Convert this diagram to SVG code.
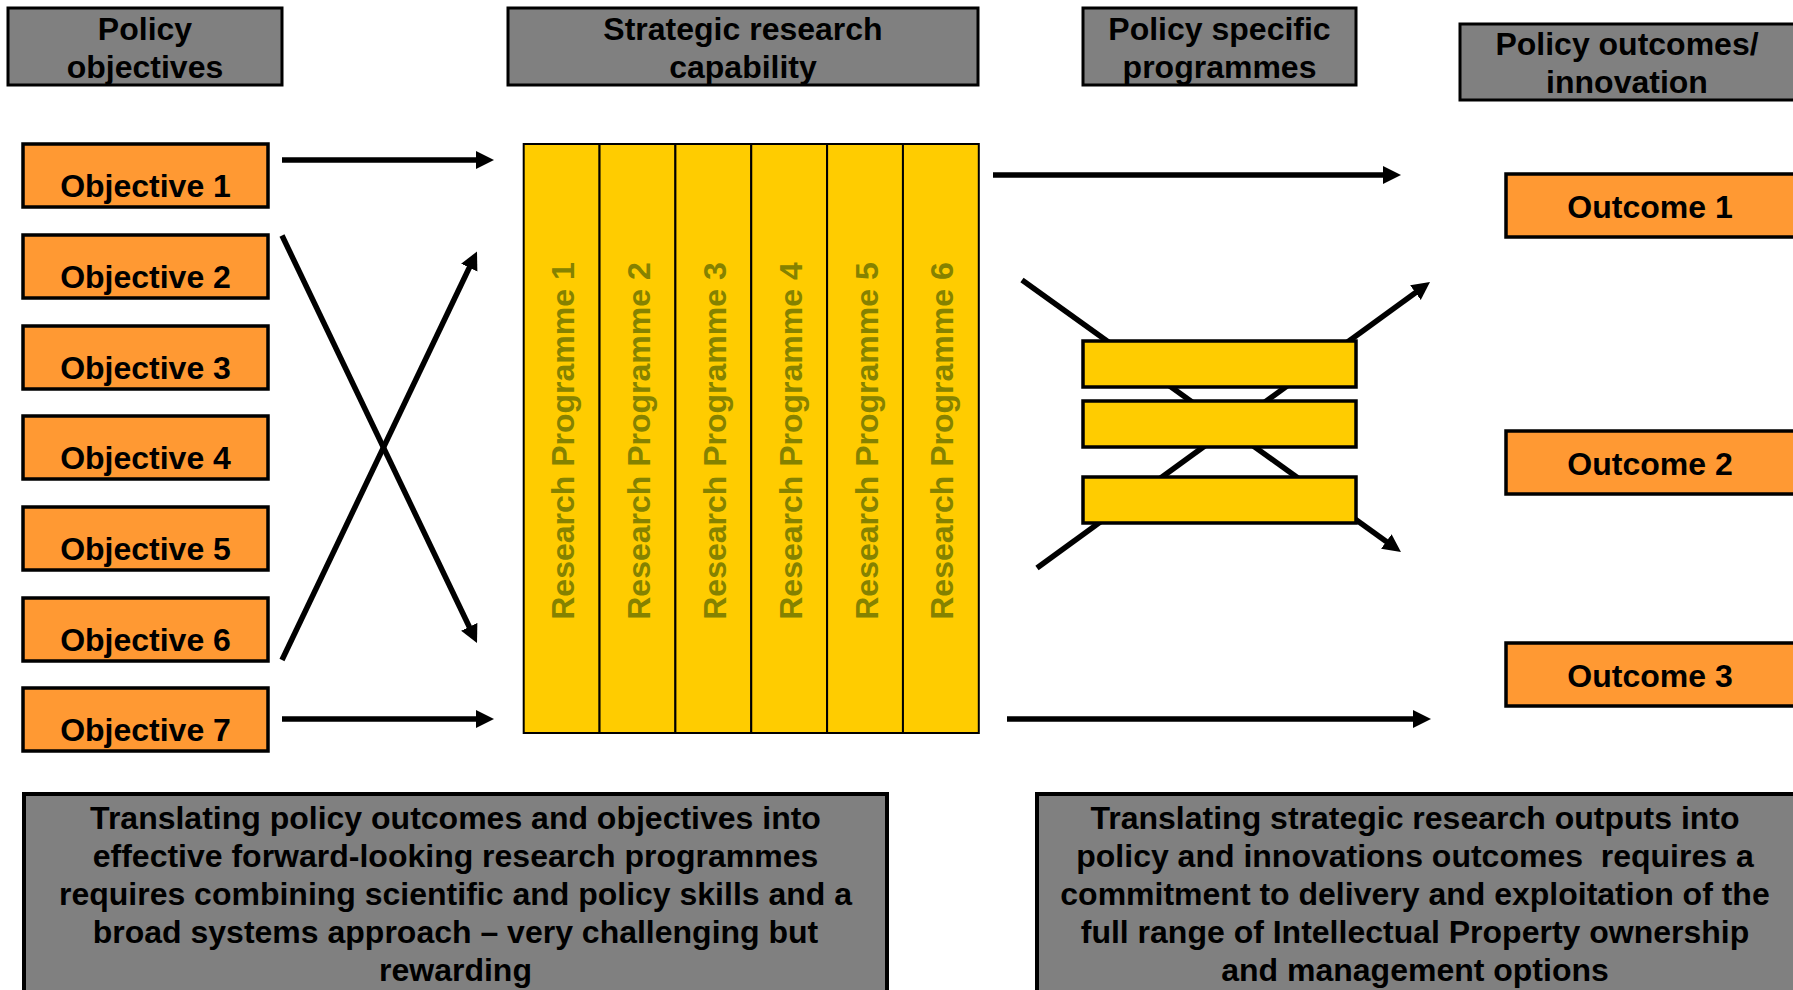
<svg xmlns="http://www.w3.org/2000/svg" width="1793" height="990" viewBox="0 0 1793 990">
<style>
text{font-family:"Liberation Sans",Arial,sans-serif;font-weight:bold;font-size:32px;fill:#000}
.hdr{fill:#808080;stroke:#000;stroke-width:3}
.obj{fill:#FF9933;stroke:#000;stroke-width:3.5}
.bar{fill:#FFCC00;stroke:#000;stroke-width:3.5}
.col{fill:#FFCC00;stroke:#000;stroke-width:2}
.rp{fill:#858200;text-anchor:middle}
.c{text-anchor:middle}
.conn{stroke:#000;stroke-width:5.5;fill:none}
</style>
<defs>
<marker id="ah" markerUnits="userSpaceOnUse" markerWidth="19" markerHeight="19" refX="5" refY="9" orient="auto">
<path d="M0,0 L18,9 L0,18 z" fill="#000"/>
</marker>
</defs>

<g id="connectors">
<line class="conn" x1="282" y1="160" x2="481" y2="160" marker-end="url(#ah)"/>
<line class="conn" x1="282" y1="719" x2="481" y2="719" marker-end="url(#ah)"/>
<line class="conn" x1="282" y1="235.5" x2="471.4" y2="631.3" marker-end="url(#ah)"/>
<line class="conn" x1="282" y1="660" x2="471.4" y2="263.2" marker-end="url(#ah)"/>
<line class="conn" x1="993" y1="175" x2="1388" y2="175" marker-end="url(#ah)"/>
<line class="conn" x1="1007" y1="719" x2="1418" y2="719" marker-end="url(#ah)"/>
<line class="conn" x1="1022" y1="280" x2="1390.4" y2="544.4" marker-end="url(#ah)"/>
<line class="conn" x1="1037" y1="568" x2="1419.5" y2="289.7" marker-end="url(#ah)"/>
</g>

<g id="hdr-policy-objectives">
<rect class="hdr" x="8" y="8" width="274" height="77"/>
<text class="c" x="145" y="40">Policy</text>
<text class="c" x="145" y="78">objectives</text>
</g>
<g id="hdr-strategic">
<rect class="hdr" x="508" y="8" width="470" height="77"/>
<text class="c" x="743" y="40">Strategic research</text>
<text class="c" x="743" y="78">capability</text>
</g>
<g id="hdr-policy-specific">
<rect class="hdr" x="1083" y="8" width="273" height="77"/>
<text class="c" x="1219.5" y="40">Policy specific</text>
<text class="c" x="1219.5" y="78">programmes</text>
</g>
<g id="hdr-outcomes">
<rect class="hdr" x="1460" y="24" width="336" height="76"/>
<text class="c" x="1627" y="55">Policy outcomes/</text>
<text class="c" x="1627" y="93">innovation</text>
</g>

<g id="objective-1"><rect class="obj" x="23" y="144" width="245" height="63"/><text class="c" x="145.5" y="196.5">Objective 1</text></g>
<g id="objective-2"><rect class="obj" x="23" y="235" width="245" height="63"/><text class="c" x="145.5" y="287.5">Objective 2</text></g>
<g id="objective-3"><rect class="obj" x="23" y="326" width="245" height="63"/><text class="c" x="145.5" y="378.5">Objective 3</text></g>
<g id="objective-4"><rect class="obj" x="23" y="416" width="245" height="63"/><text class="c" x="145.5" y="468.5">Objective 4</text></g>
<g id="objective-5"><rect class="obj" x="23" y="507" width="245" height="63"/><text class="c" x="145.5" y="559.5">Objective 5</text></g>
<g id="objective-6"><rect class="obj" x="23" y="598" width="245" height="63"/><text class="c" x="145.5" y="650.5">Objective 6</text></g>
<g id="objective-7"><rect class="obj" x="23" y="688" width="245" height="63"/><text class="c" x="145.5" y="740.5">Objective 7</text></g>

<g id="research-programmes">
<g id="rp-1"><rect class="col" x="523.7" y="144" width="75.85" height="589"/><text class="rp" transform="translate(574,441) rotate(-90)">Research Programme 1</text></g>
<g id="rp-2"><rect class="col" x="599.55" y="144" width="75.85" height="589"/><text class="rp" transform="translate(650,441) rotate(-90)">Research Programme 2</text></g>
<g id="rp-3"><rect class="col" x="675.4" y="144" width="75.85" height="589"/><text class="rp" transform="translate(725.8,441) rotate(-90)">Research Programme 3</text></g>
<g id="rp-4"><rect class="col" x="751.25" y="144" width="75.85" height="589"/><text class="rp" transform="translate(801.7,441) rotate(-90)">Research Programme 4</text></g>
<g id="rp-5"><rect class="col" x="827.1" y="144" width="75.85" height="589"/><text class="rp" transform="translate(877.5,441) rotate(-90)">Research Programme 5</text></g>
<g id="rp-6"><rect class="col" x="902.95" y="144" width="75.85" height="589"/><text class="rp" transform="translate(953.4,441) rotate(-90)">Research Programme 6</text></g>
</g>

<g id="programme-bar-1"><rect class="bar" x="1083" y="341" width="273" height="46"/></g>
<g id="programme-bar-2"><rect class="bar" x="1083" y="401" width="273" height="46"/></g>
<g id="programme-bar-3"><rect class="bar" x="1083" y="477" width="273" height="46"/></g>

<g id="outcome-1"><rect class="obj" x="1506" y="174" width="290" height="63"/><text class="c" x="1650" y="218">Outcome 1</text></g>
<g id="outcome-2"><rect class="obj" x="1506" y="431" width="290" height="63"/><text class="c" x="1650" y="475">Outcome 2</text></g>
<g id="outcome-3"><rect class="obj" x="1506" y="643" width="290" height="63"/><text class="c" x="1650" y="687">Outcome 3</text></g>

<g id="note-left">
<rect class="hdr" x="24" y="794" width="863" height="210" style="stroke-width:4"/>
<text class="c" x="455.5" y="829">Translating policy outcomes and objectives into</text>
<text class="c" x="455.5" y="867">effective forward-looking research programmes</text>
<text class="c" x="455.5" y="905">requires combining scientific and policy skills and a</text>
<text class="c" x="455.5" y="943">broad systems approach – very challenging but</text>
<text class="c" x="455.5" y="981">rewarding</text>
</g>
<g id="note-right">
<rect class="hdr" x="1037" y="794" width="760" height="210" style="stroke-width:4"/>
<text class="c" x="1415" y="829">Translating strategic research outputs into</text>
<text class="c" x="1415" y="867" xml:space="preserve">policy and innovations outcomes  requires a</text>
<text class="c" x="1415" y="905">commitment to delivery and exploitation of the</text>
<text class="c" x="1415" y="943">full range of Intellectual Property ownership</text>
<text class="c" x="1415" y="981">and management options</text>
</g>
</svg>
